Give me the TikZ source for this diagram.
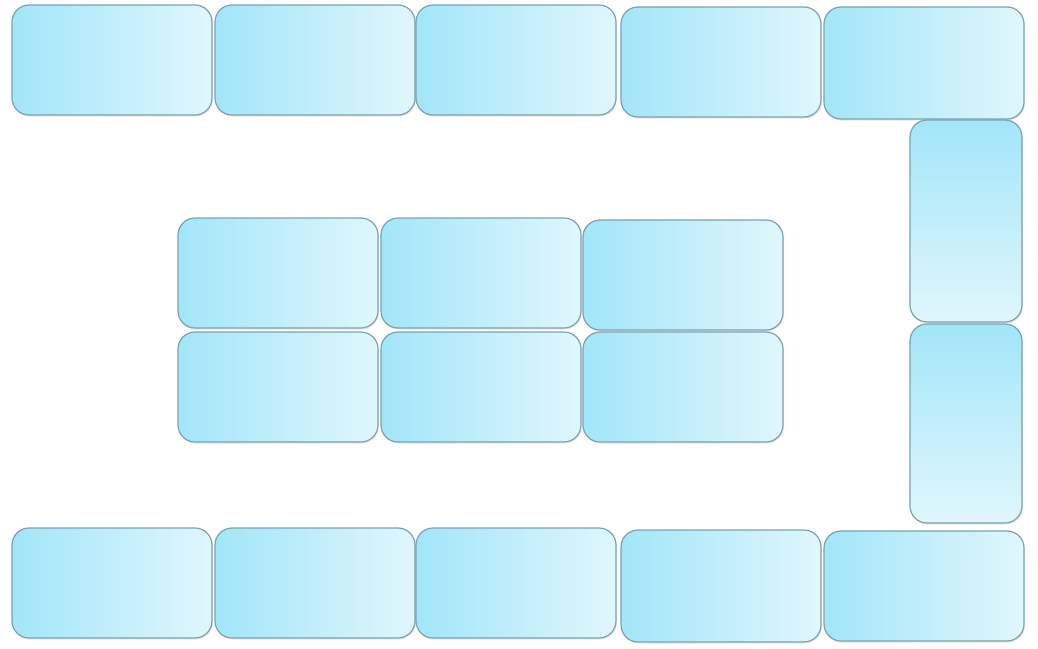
\documentclass[tikz,border=0pt]{standalone}
\usepackage{tikz}
\usetikzlibrary{shadows}
\usepackage{xcolor}
\definecolor{tiledeep}{HTML}{A2E6F9}
\definecolor{tilepale}{HTML}{E0F6FC}
\definecolor{tileedge}{HTML}{7AA3AE}

\begin{document}
\begin{tikzpicture}[
  x=0.5pt, y=-0.5pt,
  tile/.style={
    draw=tileedge,
    line width=0.6pt,
    rounded corners=8.5pt,
    left color=tiledeep,
    right color=tilepale,
    minimum width=100pt,
    minimum height=55pt,
    inner sep=0pt,
    outer sep=0pt,
    anchor=north west,
    drop shadow={opacity=0.18, shadow xshift=0.4pt, shadow yshift=-0.8pt}
  },
  vtile/.style={
    tile,
    top color=tiledeep,
    bottom color=tilepale,
    minimum width=56pt,
    minimum height=100pt
  }
]
  \useasboundingbox (0,0) rectangle (1038,648);

  % ---------------------------------------------------------------------------
  % TOP ROW
  % ---------------------------------------------------------------------------
  \node[tile] (top1) at (12,5) {};
  \node[tile] (top2) at (215,5) {};
  \node[tile] (top3) at (416,5) {};
  \node[tile] (top4) at (621,7) {};
  \node[tile, minimum height=56pt] (top5) at (824,7) {};

  % ---------------------------------------------------------------------------
  % RIGHT COLUMN
  % ---------------------------------------------------------------------------
  \node[vtile, minimum height=101pt] (side1) at (910,120) {};
  \node[vtile, minimum height=99.5pt] (side2) at (910,324) {};

  % ---------------------------------------------------------------------------
  % BOTTOM ROW
  % ---------------------------------------------------------------------------
  \node[tile] (bot1) at (12,528) {};
  \node[tile] (bot2) at (215,528) {};
  \node[tile] (bot3) at (416,528) {};
  \node[tile, minimum height=56pt] (bot4) at (621,530) {};
  \node[tile] (bot5) at (824,531) {};

  % ---------------------------------------------------------------------------
  % CENTRE BLOCK
  % ---------------------------------------------------------------------------
  \node[tile] (mid1) at (178,218) {};
  \node[tile] (mid2) at (381,218) {};
  \node[tile] (mid3) at (583,220) {};
  \node[tile] (mid4) at (178,332) {};
  \node[tile] (mid5) at (381,332) {};
  \node[tile] (mid6) at (583,332) {};

\end{tikzpicture}
\end{document}
